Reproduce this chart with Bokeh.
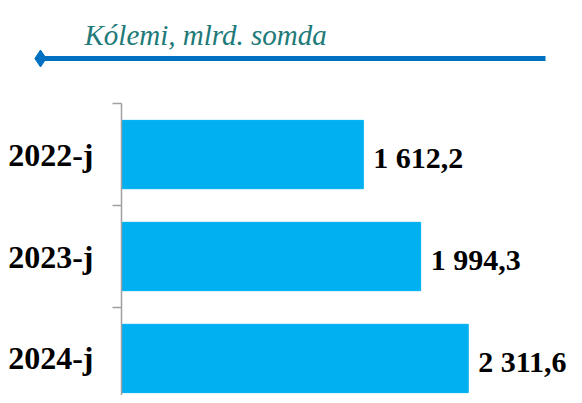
from bokeh.plotting import figure
from bokeh.models import Range1d, FixedTicker, LinearAxis, ColumnDataSource
from bokeh.layouts import column
from bokeh.core.properties import value
from bokeh.embed import file_html
from bokeh.resources import INLINE

# ---- data ----
years = ["2022-j", "2023-j", "2024-j"]
volumes = [1612.2, 1994.3, 2311.6]
title_text = "Kólemi, mlrd. somda"

positions = list(range(len(years)))
labels = [f"{v:,.1f}".replace(",", " ").replace(".", ",") for v in volumes]

SERIF = value("Liberation Serif")
W = 574
HH = 96          # header height
BH = 299         # bar panel height
LEFT = 121       # left border of bar panel

# ---- header figure (title + rule), pixel coordinates ----
top = figure(width=W, height=HH, output_backend="svg", toolbar_location=None,
             x_range=Range1d(0, W), y_range=Range1d(HH, 0),
             x_axis_location=None, y_axis_location=None,
             min_border=0, title_location=None)
top.frame_align = False
top.outline_line_color = None
top.grid.visible = False
top.text(x=[84], y=[34], text=[title_text], text_font=SERIF,
         text_font_style="italic", text_font_size="29px", text_color="#217A78",
         text_baseline="alphabetic", text_align="left")
top.line(x=[40, 545], y=[58, 58], line_color="#0070C0", line_width=5)
top.scatter(x=[40], y=[58], marker="diamond", size=17,
            fill_color="#0070C0", line_color="#0070C0")

# ---- bar figure ----
src = ColumnDataSource(dict(y=positions, v=volumes, lab=labels))
p = figure(width=W, height=BH, output_backend="svg", toolbar_location=None,
           x_range=Range1d(0, (W - LEFT) / 0.150), y_range=Range1d(2.363, -0.569),
           x_axis_location=None, y_axis_location=None,
           min_border=0, min_border_left=LEFT, title_location=None)
p.frame_align = False
p.outline_line_color = None
p.grid.visible = False

p.hbar(y="y", right="v", left=0, height=0.67, source=src,
       fill_color="#00B0F0", line_color="#00B0F0")
p.text(x="v", y="y", text="lab", source=src, x_offset=10, y_offset=3,
       text_font=SERIF, text_font_style="bold", text_font_size="30px",
       text_color="black", text_baseline="middle", text_align="left")

ax = LinearAxis(
    ticker=FixedTicker(ticks=positions,
                       minor_ticks=[i - 0.5 for i in range(len(years) + 1)]),
    major_label_overrides={i: y for i, y in zip(positions, years)},
    bounds=(-0.5, len(years)),
)
ax.axis_line_color = "#A0A0A0"
ax.axis_line_width = 1.5
ax.major_tick_line_color = None
ax.major_tick_out = 0
ax.major_tick_in = 0
ax.minor_tick_line_color = "#A0A0A0"
ax.minor_tick_line_width = 1.5
ax.minor_tick_out = 9
ax.minor_tick_in = 0
ax.major_label_standoff = 19
ax.major_label_text_font = "Liberation Serif"
ax.major_label_text_font_style = "bold"
ax.major_label_text_font_size = "32px"
ax.major_label_text_color = "black"
p.add_layout(ax, "left")

layout = column(top, p, spacing=0)
open("out.html", "w").write(file_html(layout, INLINE))
